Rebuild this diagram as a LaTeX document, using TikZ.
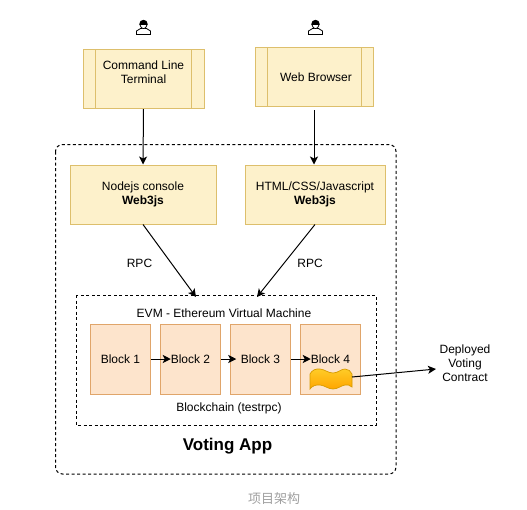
\documentclass[tikz,border=0pt]{standalone}
\usepackage{fontspec}
\setmainfont{Liberation Sans}
\newfontfamily\cjk{Noto Sans CJK SC}
\usetikzlibrary{arrows.meta}
\definecolor{appfill}{HTML}{FDF1CB}
\definecolor{appline}{HTML}{DDBF6C}
\definecolor{blockfill}{HTML}{FDE4CC}
\definecolor{blockline}{HTML}{E0A56A}
\definecolor{tapetop}{HTML}{FFCD28}
\definecolor{tapebottom}{HTML}{FFA500}
\definecolor{tapeline}{HTML}{D79B00}
\begin{document}
\begin{tikzpicture}[
        x=1pt, y=-1pt,
        every node/.style={color=black, font=\fontsize{12}{14}\selectfont, align=center, inner sep=0pt},
        app box/.style={draw=appline, fill=appfill, line width=1pt, minimum width=#1, minimum height=59pt},
        block box/.style={draw=blockline, fill=blockfill, line width=1pt, minimum width=60.5pt, minimum height=70pt},
        dashed box/.style={draw, line width=1pt, dash pattern=on 3pt off 2.5pt},
        pile/.style={line width=1pt, -{Stealth[length=8pt,width=8pt,inset=2pt]}},
        user/.pic={
            \draw[fill=white, line width=.8pt] (-7,7.5) -- (-7,4) -- (-3,1.5) -- (3,1.5) -- (7,4) -- (7,7.5) -- cycle;
            \fill[black] (0,-3) circle (4.2);
            \draw[fill=white, line width=.6pt] (-3.6,-2.5) .. controls (-2.5,3) and (2.5,3) .. (3.6,-2.5) -- cycle;
        }
    ]
    \useasboundingbox (0,0) rectangle (527,509);
    % Users
    \pic at (143.5,27) {user};
    \pic at (315.5,27) {user};
    % Outer boxes
    \draw[dashed box, rounded corners=7pt] (55.5,144.5) rectangle (396,474);
    \draw[dashed box] (76,295) rectangle (376,425);
    % Terminals
    \node[app box=121pt] (terminal) at (143.5,79) {};
    \draw[appline, line width=1pt] (95.5,49.5) -- (95.5,109) (191.5,49.5) -- (191.5,109);
    \node at (143.5,72.5) {Command Line\\Terminal};
    \node[app box=118pt] (browser) at (314,77) {};
    \draw[appline, line width=1pt] (267,47.5) -- (267,107) (361,47.5) -- (361,107);
    \node at (316,77.5) {Web Browser};
    % Clients
    \node[app box=146pt] (nodejs) at (143,194.5) {Nodejs console\\\textbf{Web3js}};
    \node[app box=140pt] (html) at (315,194.5) {HTML/CSS/Javascript\\\textbf{Web3js}};
    % Blocks
    \node[block box] (block1) at (120.5,359) {Block 1};
    \node[block box] (block2) at (190.5,359) {Block 2};
    \node[block box] (block3) at (260.5,359) {Block 3};
    \node[block box] (block4) at (330.5,359) {};
    \node at (330.5,359.5) {Block 4};
    % Contract
    \draw[draw=tapeline, line width=.7pt, top color=tapetop, bottom color=tapebottom]
        (310,374) .. controls (312,370) and (316,368.5) .. (320,369)
        .. controls (325,369.5) and (328,373) .. (333,373)
        .. controls (338,373) and (341,369) .. (345,369)
        .. controls (348,369) and (351,371) .. (352,374) -- (352,387)
        .. controls (350,385) and (347,384.5) .. (345,385)
        .. controls (341,385.5) and (338,389) .. (333,389)
        .. controls (328,389) and (325,385.5) .. (320,385)
        .. controls (316,384.5) and (312,386) .. (310,389) -- cycle;
    % Labels
    \node at (224,313.5) {EVM - Ethereum Virtual Machine};
    \node at (229,408.5) {Blockchain (testrpc)};
    \node (rpcleft) at (139.5,263) {RPC};
    \node (rpcright) at (310,263) {RPC};
    \node[font=\fontsize{17}{20}\selectfont\bfseries] (app) at (227.5,446) {Voting App};
    \node (contract) at (465,363) {Deployed\\Voting\\Contract};
    \node[font=\fontsize{13}{15}\cjk, text=gray!75] (caption) at (274,499) {项目架构};
    % Ends of the lines
    \coordinate (evmleft) at (196,297);
    \coordinate (evmright) at (257,297);
    \coordinate (contractin) at (436,369);
    \coordinate (contractout) at (352,377);
    % Lines
    \draw[pile] (terminal.south) -- (nodejs.north);
    \draw[pile] (browser.south |- 0,110) -- (browser.south |- nodejs.north);
    \draw[pile] (nodejs.south) -- (evmleft);
    \draw[pile] (html.south) -- (evmright);
    \draw[pile] (block1.east) -- ++(19.5,0);
    \draw[pile] (block2.east) -- ++(15,0);
    \draw[pile] (block3.east) -- ++(19.5,0);
    \draw[pile] (contractout) -- (contractin);
\end{tikzpicture}
\end{document}
